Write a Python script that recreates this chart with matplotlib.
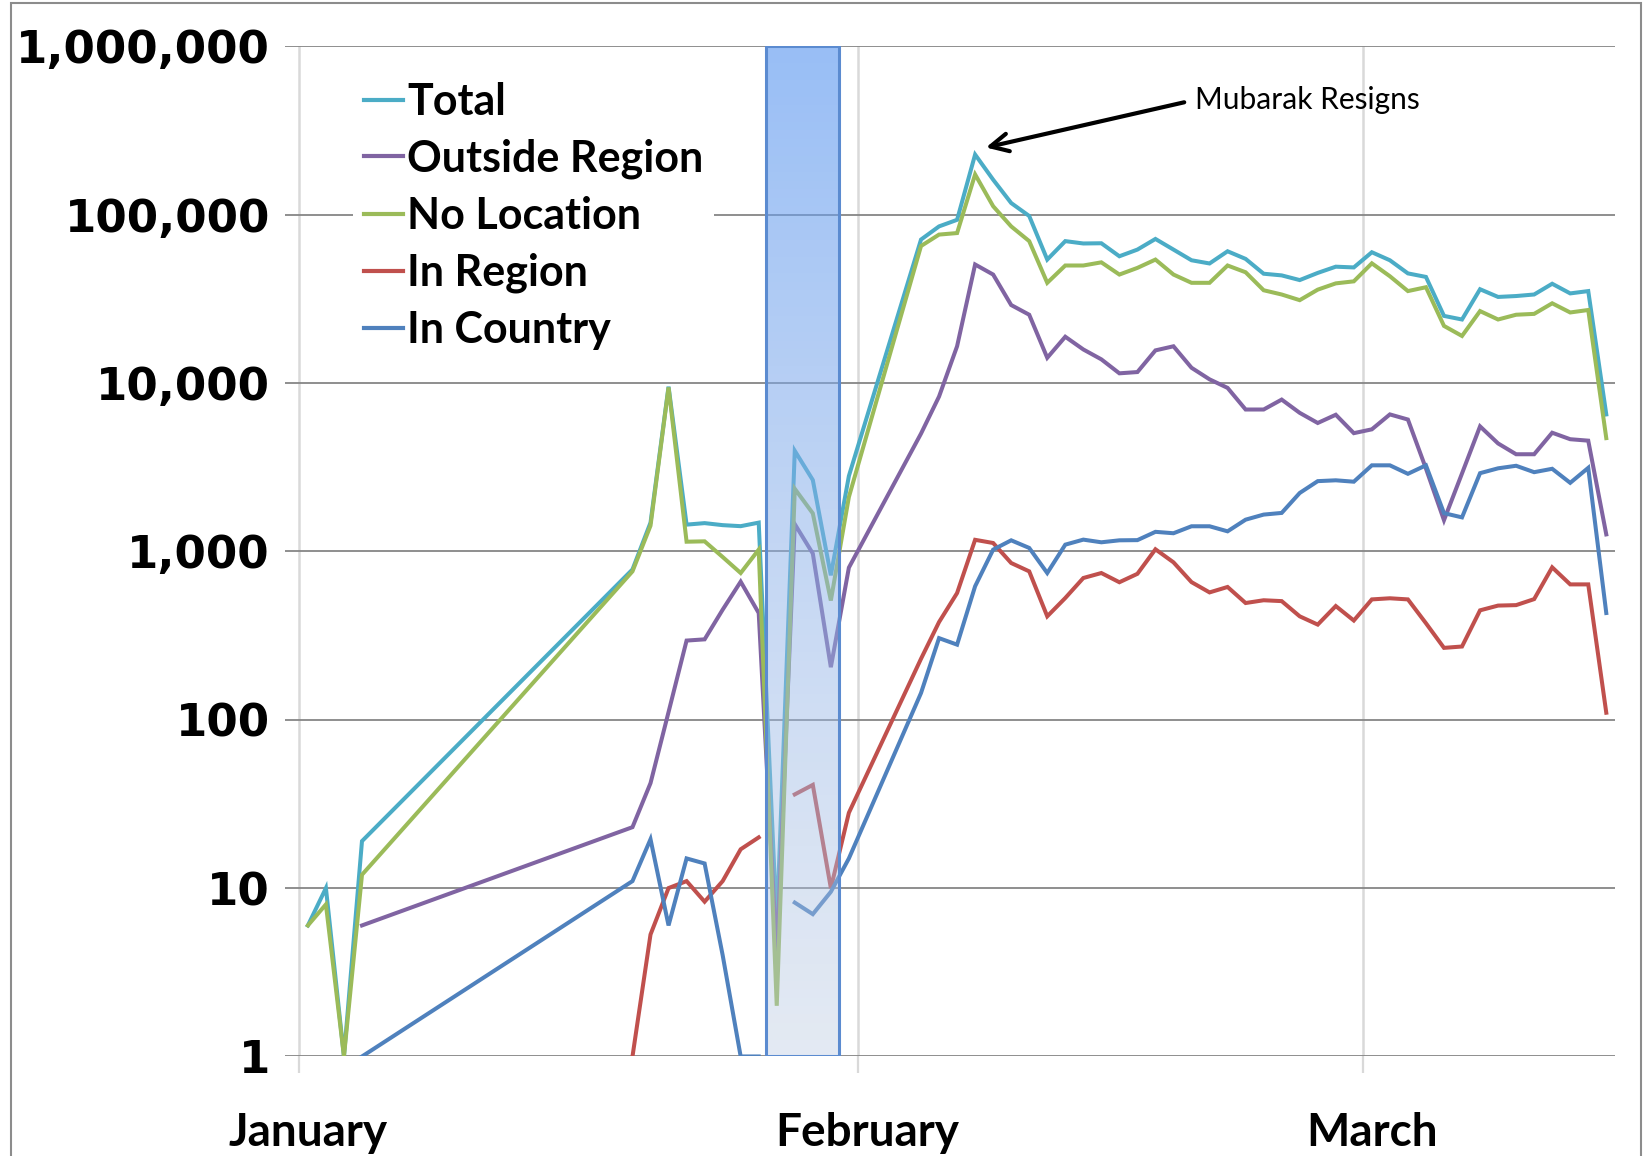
import numpy as np
import matplotlib
matplotlib.use("Agg")
import matplotlib.pyplot as plt
from matplotlib.colors import LinearSegmentedColormap
from matplotlib.patches import Rectangle
from matplotlib.ticker import NullLocator

# day index, 0 = 1 January (no data on days 4-17 and 31-33)
days = [0, 1, 2, 3,
        18, 19, 20, 21, 22, 23, 24, 25, 26, 27, 28, 29, 30,
        34, 35, 36, 37, 38, 39, 40, 41, 42, 43, 44, 45, 46, 47, 48, 49, 50,
        51, 52, 53, 54, 55, 56, 57, 58, 59, 60, 61, 62, 63, 64, 65, 66, 67,
        68, 69, 70, 71, 72]

nan = np.nan
total = [6, 10, 1, 19,
         780, 1480, 9500, 1440, 1470, 1430, 1410, 1480, 6, 3950, 2650, 720, 2800,
         71000, 85000, 93000, 227000, 161000, 117000, 98000, 54000, 69500, 67300,
         67500, 56500, 61900, 71600, 61900, 53500, 51200, 60500, 54500, 44500,
         43500, 40800, 45000, 49000, 48500, 59700, 53500, 44700, 42600, 25000,
         23800, 36000, 32400, 32800, 33500, 38800, 34000, 35100, 6500]
outside_region = [nan, nan, nan, 6,
                  23, 42, 111, 295, 300, 450, 660, 430, 4, 1450, 970, 205, 800,
                  5000, 8300, 16500, 50500, 44000, 29000, 25400, 14100, 18800, 15800,
                  13800, 11400, 11600, 15600, 16500, 12300, 10500, 9340, 6950, 6950,
                  7960, 6640, 5780, 6470, 5030, 5300, 6500, 6060, 3100, 1530,
                  2900, 5520, 4370, 3770, 3770, 5060, 4630, 4540, 1260]
no_location = [6, 8, 1, 12,
               760, 1420, 9400, 1140, 1146, 925, 743, 1023, 2, 2350, 1680, 510, 2100,
               65000, 76000, 77600, 173000, 112000, 85000, 69500, 39300, 49800, 49800,
               52000, 44000, 48200, 54000, 44000, 39300, 39300, 49800, 45400, 35500,
               33500, 31000, 35800, 39000, 40100, 51300, 43000, 35100, 37000, 21800,
               19000, 26700, 23800, 25400, 25700, 29700, 26200, 27100, 4700]
in_region = [nan, nan, nan, nan,
             1, 5.3, 10, 11, 8.3, 11, 17, 20, nan, 36, 41, 10, 28,
             230, 380, 565, 1170, 1120, 852, 760, 411, 528, 694,
             743, 655, 735, 1028, 860, 656, 570, 614, 493, 512,
             506, 411, 367, 473, 388, 518, 526, 518, 374, 267,
             272, 446, 476, 479, 520, 803, 636, 636, 110]
in_country = [nan, nan, nan, 1,
              11, 19.5, 6, 15, 14, 4, 1, 1, nan, 8.2, 7, 9.5, 15,
              144, 305, 279, 620, 1023, 1162, 1047, 743, 1095, 1173,
              1131, 1162, 1165, 1305, 1280, 1408, 1408, 1314, 1541, 1652,
              1690, 2220, 2610, 2640, 2590, 3240, 3240, 2885, 3240, 1685,
              1590, 2910, 3110, 3220, 2950, 3090, 2550, 3130, 430]

series_names = ["Total", "Outside Region", "No Location", "In Region", "In Country"]
series_colors = ["#4BACC6", "#8064A2", "#9BBB59", "#C0504D", "#4F81BD"]

month_edges = [-0.5, 30.5, 58.5]
month_centers = [0, 31, 59]
month_names = ["January", "February", "March"]

y_ticks = [1, 10, 100, 1000, 10000, 100000, 1000000]
y_labels = ["1", "10", "100", "1,000", "10,000", "100,000", "1,000,000"]

blackout = (25.4, 29.45)   # shaded span, in days
peak_day, peak_val = 37.6, 2.5e5
note_day, note_val = 49.2, 4.8e5


fig = plt.figure(figsize=(16.44, 11.56), dpi=100)
ax = fig.add_axes([0.1735, 0.0861, 0.8086, 0.8740])

data = [total, outside_region, no_location, in_region, in_country]
for vals, name, col in zip(data, series_names, series_colors):
    ax.plot(days, vals, color=col, lw=2.9, label=name, zorder=3,
            solid_joinstyle="miter")

ax.set_yscale("log")
ax.set_ylim(1, 1e6)
ax.set_xlim(-1.256, 72.46)

# gradient box for the blackout period
grad = LinearSegmentedColormap.from_list(
    "blk", [(187/255, 202/255, 225/255, 0.40), (90/255, 150/255, 240/255, 0.62)])
ys = np.logspace(0, 6, 121)
cvals = np.linspace(0, 1, 120).reshape(-1, 1)
ax.pcolormesh([blackout[0], blackout[1]], ys, cvals, cmap=grad,
              shading="flat", zorder=5, antialiased=False)
ax.add_patch(Rectangle((blackout[0], 1), blackout[1] - blackout[0], 1e6 - 1,
                       fill=False, edgecolor="#5B8BD0", lw=2.2, zorder=6))

# axes styling
for sp in ax.spines.values():
    sp.set_visible(False)
ax.set_axisbelow(True)
ax.set_yticks(y_ticks)
ax.set_yticklabels(y_labels)
ax.yaxis.set_minor_locator(NullLocator())
ax.tick_params(axis="y", length=0, pad=11)
for lab in ax.get_yticklabels():
    lab.set_fontfamily("DejaVu Sans")
    lab.set_fontweight("bold")
    lab.set_fontsize(32.5)
ax.grid(axis="y", which="major", color="#868686", lw=1.3)

ax.set_xticks(month_edges)
ax.set_xticklabels([])
ax.set_xticks(month_centers, minor=True)
ax.set_xticklabels(month_names, minor=True)
ax.tick_params(axis="x", which="major", length=12, width=1.6,
               color="#D9D9D9", direction="out")
ax.tick_params(axis="x", which="minor", length=0, pad=40)
for lab in ax.get_xticklabels(minor=True):
    lab.set_fontfamily("Lato")
    lab.set_fontweight("bold")
    lab.set_fontsize(33)
ax.grid(axis="x", which="major", color="#D9D9D9", lw=1.8)

leg = ax.legend(loc="upper left", bbox_to_anchor=(0.2149, 0.9386),
                bbox_transform=fig.transFigure, frameon=True, fancybox=False,
                facecolor="white", edgecolor="none", framealpha=1,
                prop={"family": "Lato", "weight": "bold", "size": 31},
                handlelength=0.9, handletextpad=0.1, labelspacing=0.39,
                borderpad=0.25, borderaxespad=0)
leg.set_zorder(7)
for line in leg.get_lines():
    line.set_linewidth(3.0)

ax.annotate("Mubarak Resigns", xy=(peak_day, peak_val), xytext=(note_day, note_val),
            fontsize=21.5, family="Lato", ha="left", va="center",
            arrowprops=dict(arrowstyle="->", color="black", lw=3.0,
                            mutation_scale=32, relpos=(0, 0.5),
                            shrinkA=6, shrinkB=0), zorder=8)

# outer frame of the picture
fig.patches.append(Rectangle((0.0064, -0.01), 0.9917, 1.0073, fill=False,
                             edgecolor="#8C8C8C", lw=1.5,
                             transform=fig.transFigure, figure=fig))

fig.savefig("out.png", dpi=100)
